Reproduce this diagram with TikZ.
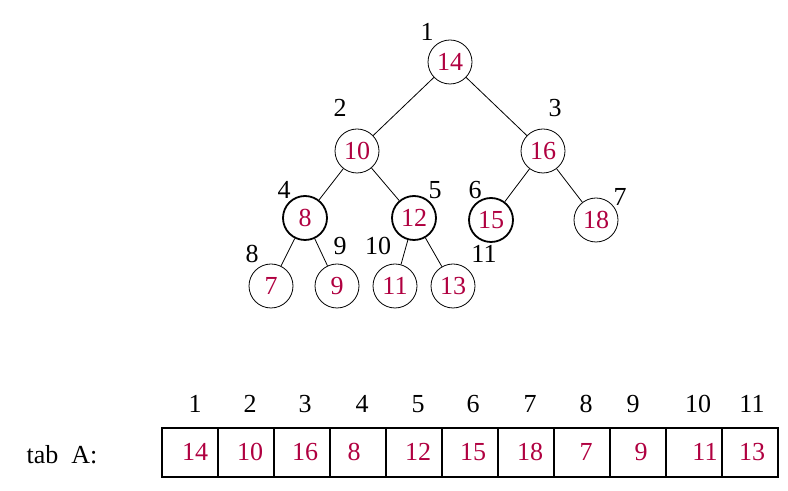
\documentclass[tikz,border=0pt]{standalone}
\usepackage{fontspec}
\setmainfont{Liberation Serif}
\definecolor{val}{RGB}{176,0,64}
\begin{document}
\begin{tikzpicture}[x=0.5pt,y=-0.5pt,
  hn/.style={circle,draw,minimum size=22pt,inner sep=0pt,font=\fontsize{13}{13}\selectfont,text=val},
  hthick/.style={hn,line width=0.9pt},
  idx/.style={font=\fontsize{13}{13}\selectfont},
  cell/.style={draw,line width=1pt,minimum width=28pt,minimum height=24.5pt,inner sep=0pt,font=\fontsize{13}{13}\selectfont,text=val}]
\useasboundingbox (0,0) rectangle (788,491);
\node[hn] (n1) at (450,62) {14};
\node[hn] (n2) at (357,151) {10};
\node[hn] (n3) at (543,151) {16};
\node[hthick] (n4) at (305,218) {8};
\node[hthick] (n5) at (414,218) {12};
\node[hthick] (n6) at (491,220) {15};
\node[hn] (n7) at (596,220) {18};
\node[hn] (n8) at (271,286) {7};
\node[hn] (n9) at (337,286) {9};
\node[hn] (n10) at (395,286) {11};
\node[hn] (n11) at (453,286) {13};
\foreach \a/\b in {n1/n2,n1/n3,n2/n4,n2/n5,n3/n6,n3/n7,n4/n8,n4/n9,n5/n10,n5/n11}
  \draw[line width=0.4pt] (\a) -- (\b);
\node[idx] (l1) at (427,32) {1};
\node[idx] (l2) at (340,108) {2};
\node[idx] (l3) at (555,108) {3};
\node[idx] (l4) at (284,190) {4};
\node[idx] (l5) at (435,190) {5};
\node[idx] (l6) at (475,190) {6};
\node[idx] (l7) at (620,197) {7};
\node[idx] (l8) at (252,254) {8};
\node[idx] (l9) at (340,246) {9};
\node[idx] (l10) at (378,246) {10};
\node[idx] (l11) at (484,254) {11};
\node[idx] (tab) at (62,455) {tab\ \ A:};
\foreach \i/\v/\tx/\ix in {1/14/195/195,2/10/250/250,3/16/305/305,4/8/354/362,5/12/418/418,6/15/473/473,7/18/530/530,8/7/586/586,9/9/641/633,10/11/705/698,11/13/752/752}{
  \pgfmathsetmacro{\cx}{162+56*(\i-1)+28}
  \node[cell] (c\i) at (\cx,452.5) {};
  \node[font=\fontsize{13}{13}\selectfont,text=val] (v\i) at (\tx,452) {\v};
  \node[idx] (t\i) at (\ix,404) {\i};
}
\end{tikzpicture}
\end{document}
